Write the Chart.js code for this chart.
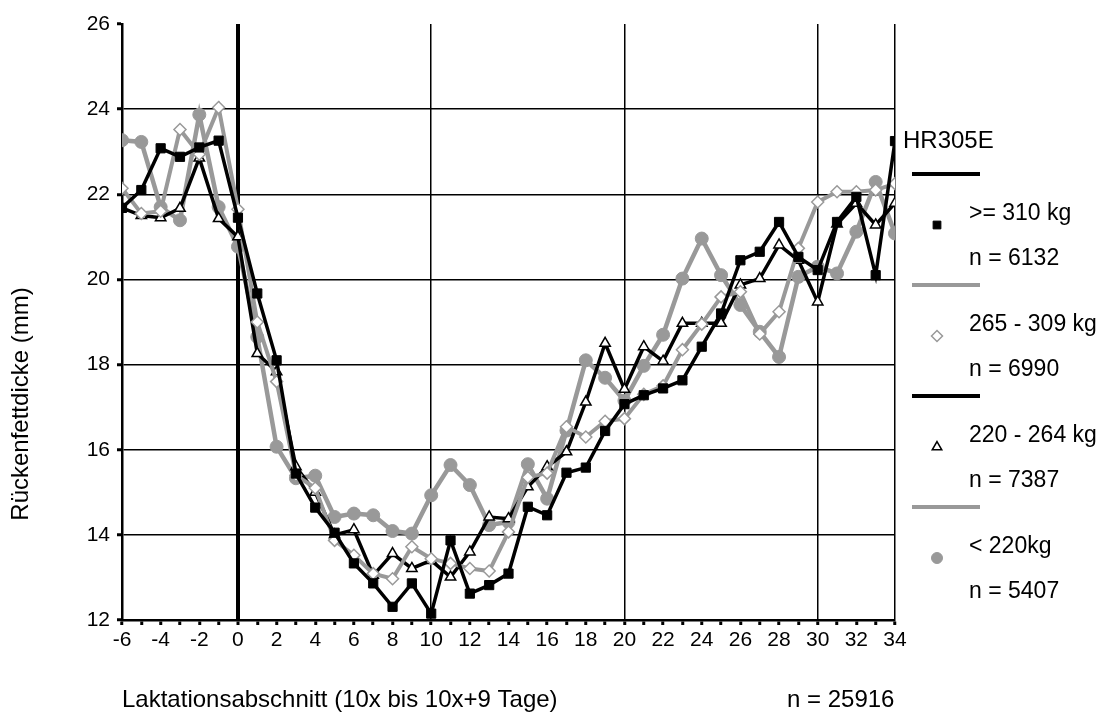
<!DOCTYPE html>
<html>
<head>
<meta charset="utf-8">
<script src="https://cdn.jsdelivr.net/npm/chart.js@4.4.0/dist/chart.umd.min.js"></script>
<style>
  html, body { margin: 0; padding: 0; background: #ffffff; }
  #wrap { width: 1106px; height: 726px; position: relative; }
</style>
</head>
<body>
<div id="wrap"><canvas id="c" width="1106" height="726"></canvas></div>
<script>
// Lactation sections (10x to 10x+9 days)
const sections = [-6, -5, -4, -3, -2, -1, 0, 1, 2, 3, 4, 5, 6, 7, 8, 9, 10, 11, 12, 13, 14,
  15, 16, 17, 18, 19, 20, 21, 22, 23, 24, 25, 26, 27, 28, 29, 30, 31, 32, 33, 34];

// Back fat thickness (mm) per weight class
const fat310 = [21.68, 22.10, 23.08, 22.88, 23.10, 23.26, 21.45, 19.67, 18.10, 15.44, 14.64,
  14.05, 13.33, 12.86, 12.31, 12.86, 12.15, 13.87, 12.62, 12.82, 13.09,
  14.66, 14.46, 15.46, 15.58, 16.44, 17.07, 17.28, 17.44, 17.63, 18.42,
  19.20, 20.45, 20.65, 21.35, 20.53, 20.22, 21.35, 21.94, 20.10, 23.25];
const fat265 = [22.14, 21.55, 21.60, 23.52, 22.94, 24.04, 21.65, 19.00, 17.60, 15.40, 15.10,
  13.87, 13.52, 13.09, 12.97, 13.72, 13.44, 13.33, 13.21, 13.15, 14.07,
  15.35, 15.45, 16.54, 16.30, 16.67, 16.73, 17.30, 17.50, 18.35, 18.95,
  19.59, 19.71, 18.72, 19.24, 20.73, 21.82, 22.06, 22.06, 22.10, 22.25];
const fat220 = [21.68, 21.50, 21.45, 21.67, 22.85, 21.43, 21.00, 18.26, 17.83, 15.60, 15.00,
  14.00, 14.12, 13.05, 13.56, 13.21, 13.40, 13.01, 13.60, 14.42, 14.38,
  15.13, 15.60, 15.95, 17.12, 18.50, 17.42, 18.42, 18.08, 18.97, 18.97,
  18.97, 19.87, 20.02, 20.81, 20.45, 19.47, 21.30, 21.79, 21.28, 21.79];
const fatBelow220 = [23.27, 23.23, 21.70, 21.39, 23.87, 21.70, 20.77, 18.65, 16.07, 15.33, 15.39,
  14.42, 14.50, 14.46, 14.09, 14.03, 14.93, 15.64, 15.17, 14.23, 14.30,
  15.66, 14.85, 16.45, 18.10, 17.69, 17.15, 17.97, 18.70, 20.02, 20.96,
  20.10, 19.40, 18.77, 18.18, 20.06, 20.30, 20.14, 21.12, 22.29, 21.08];

// Legend texts
const classLabels = ['>= 310 kg', '265 - 309 kg', '220 - 264 kg', '< 220kg'];
const classCounts = ['n = 6132', 'n = 6990', 'n = 7387', 'n = 5407'];
const seriesName = 'HR305E';
const yTitle = 'Rückenfettdicke (mm)';
const xTitle = 'Laktationsabschnitt (10x bis 10x+9 Tage)';
const totalCount = 'n = 25916';

const FONT = '"Liberation Sans", Arial, sans-serif';
const GREY = '#999999';

function toPoints(values) {
  return sections.map((s, i) => ({ x: s, y: values[i] }));
}

const datasets = [
  { label: classLabels[0], data: toPoints(fat310), borderColor: '#000000', borderWidth: 3.5,
    pointStyle: 'rect', pointRadius: 6.5, pointBackgroundColor: '#000000', pointBorderColor: '#000000', pointBorderWidth: 1 },
  { label: classLabels[1], data: toPoints(fat265), borderColor: GREY, borderWidth: 4,
    pointStyle: 'rectRot', pointRadius: 6, pointBackgroundColor: '#ffffff', pointBorderColor: GREY, pointBorderWidth: 1.5 },
  { label: classLabels[2], data: toPoints(fat220), borderColor: '#000000', borderWidth: 3.5,
    pointStyle: 'triangle', pointRadius: 6, pointBackgroundColor: '#ffffff', pointBorderColor: '#000000', pointBorderWidth: 1.5 },
  { label: classLabels[3], data: toPoints(fatBelow220), borderColor: GREY, borderWidth: 4.5,
    pointStyle: 'circle', pointRadius: 6.5, pointBackgroundColor: GREY, pointBorderColor: GREY, pointBorderWidth: 1 }
];
datasets.forEach(d => { d.tension = 0; d.fill = false; d.pointHoverRadius = d.pointRadius; });

function drawMarker(ctx, style, x, y, r) {
  if (style === 'rect') {
    const s = r * Math.SQRT1_2;
    ctx.rect(x - s, y - s, 2 * s, 2 * s);
  } else if (style === 'rectRot') {
    ctx.moveTo(x - r, y); ctx.lineTo(x, y - r); ctx.lineTo(x + r, y); ctx.lineTo(x, y + r); ctx.closePath();
  } else if (style === 'triangle') {
    const h = r * 0.866;
    ctx.moveTo(x, y - r); ctx.lineTo(x + h, y + r / 2); ctx.lineTo(x - h, y + r / 2); ctx.closePath();
  } else {
    ctx.arc(x, y, r, 0, Math.PI * 2);
  }
}

// Legend, axis titles and series name drawn onto the canvas
const annotations = {
  id: 'annotations',
  afterDraw(chart) {
    const ctx = chart.ctx;
    ctx.save();
    ctx.fillStyle = '#000';
    ctx.textBaseline = 'middle';

    // y-axis title
    ctx.save();
    ctx.font = '24px ' + FONT;
    ctx.translate(21, 404);
    ctx.rotate(-Math.PI / 2);
    ctx.textAlign = 'center';
    ctx.fillText(yTitle, 0, 0);
    ctx.restore();

    // x-axis title and total count
    ctx.font = '24px ' + FONT;
    ctx.textAlign = 'left';
    ctx.fillText(xTitle, 122, 700);
    ctx.fillText(totalCount, 787, 700);

    // series name next to last point of the first series
    const meta0 = chart.getDatasetMeta(0);
    const last = meta0.data[meta0.data.length - 1];
    ctx.font = '24px ' + FONT;
    ctx.fillText(seriesName, last.x + 8, last.y);

    // legend
    ctx.font = '23px ' + FONT;
    chart.data.datasets.forEach((ds, i) => {
      const ly = 174 + i * 111;
      ctx.beginPath();
      ctx.strokeStyle = ds.borderColor;
      ctx.lineWidth = 4;
      ctx.moveTo(912, ly);
      ctx.lineTo(980, ly);
      ctx.stroke();
      ctx.fillStyle = ds.pointBackgroundColor;
      ctx.strokeStyle = ds.pointBorderColor;
      ctx.lineWidth = ds.pointBorderWidth;
      ctx.beginPath();
      drawMarker(ctx, ds.pointStyle, 937, ly + 51, 5.5);
      ctx.fill();
      ctx.stroke();
      ctx.fillStyle = '#000';
      ctx.fillText(classLabels[i], 969, ly + 40);
      ctx.fillText(classCounts[i], 969, ly + 85);
    });
    ctx.restore();
  }
};

const majorX = [0, 10, 20, 30, 34];

new Chart(document.getElementById('c'), {
  type: 'line',
  data: { datasets },
  options: {
    responsive: false,
    animation: false,
    devicePixelRatio: 1,
    layout: { padding: { top: 24, right: 211, bottom: 0, left: 0 } },
    plugins: { legend: { display: false }, tooltip: { enabled: false } },
    scales: {
      x: {
        type: 'linear',
        min: -6, max: 34,
        afterFit: s => { s.height = 106; },
        ticks: {
          stepSize: 1, autoSkip: false, maxRotation: 0, padding: 3,
          color: '#000', font: { family: FONT, size: 21 },
          callback: v => (v % 2 === 0 ? String(v) : '')
        },
        grid: {
          color: c => (majorX.includes(c.tick && c.tick.value) ? '#000' : 'rgba(0,0,0,0)'),
          lineWidth: c => (c.tick && c.tick.value === 0 ? 4 : 1.5),
          tickColor: '#000', tickLength: 5, tickWidth: 3
        },
        border: { color: '#000', width: 2.5 }
      },
      y: {
        min: 12, max: 26,
        afterFit: s => { s.width = 122; },
        ticks: {
          stepSize: 2, padding: 7,
          color: '#000', font: { family: FONT, size: 21 }
        },
        grid: {
          color: c => (c.tick && c.tick.value > 12 && c.tick.value < 26 ? '#000' : 'rgba(0,0,0,0)'),
          lineWidth: 1.5,
          tickColor: '#000', tickLength: 5, tickWidth: 3
        },
        border: { color: '#000', width: 2.5 }
      }
    }
  },
  plugins: [annotations]
});
</script>
</body>
</html>
